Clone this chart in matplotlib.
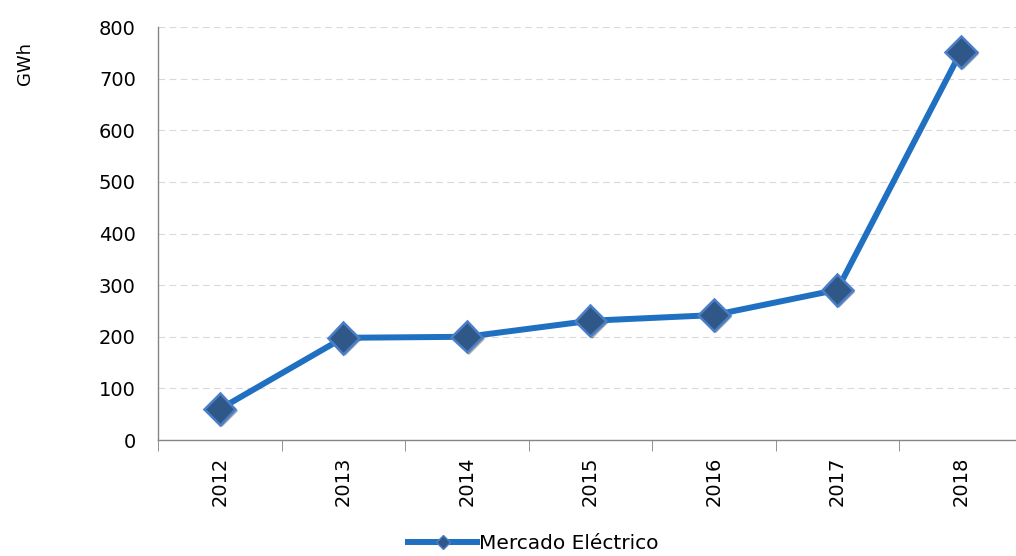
import matplotlib
matplotlib.use('Agg')
import matplotlib.pyplot as plt
import matplotlib.patheffects as pe
import numpy as np

# Annual volume traded on the electricity market
years = ['2012', '2013', '2014', '2015', '2016', '2017', '2018']
gwh = [60, 198, 200, 231, 242, 291, 752]
yticks = [0, 100, 200, 300, 400, 500, 600, 700, 800]

line_col = '#1F70C1'
marker_face = '#2F5788'
marker_edge = '#4A7FC8'

fig = plt.figure(figsize=(10.16, 5.56), dpi=100)
ax = fig.add_axes([0.1555, 0.2086, 0.851, 0.7428])

x = np.arange(len(years))
ax.plot(x, gwh, color=line_col, lw=4.3, zorder=3, solid_capstyle='round', clip_on=False)
ax.plot(x, gwh, ls='none', marker='D', ms=16, mfc=marker_face, mec=marker_edge,
        mew=1.8, zorder=4, clip_on=False,
        path_effects=[pe.SimplePatchShadow(offset=(1.5, -1.5), alpha=0.35, shadow_rgbFace='k'),
                      pe.Normal()])

ax.set_xlim(-0.5, len(years) - 0.5)
ax.set_ylim(0, 800)
ax.set_yticks(yticks)
ax.set_xticks(x)
ax.set_xticklabels(years, rotation=90)
ax.set_xticks(np.arange(-0.5, len(years)), minor=True)
ax.tick_params(axis='x', which='major', length=0, pad=12, labelsize=14)
ax.tick_params(axis='x', which='minor', length=8, color='#808080', direction='out')
ax.tick_params(axis='y', length=0, pad=16, labelsize=14)

ax.grid(axis='y', ls=(0, (6, 4)), lw=0.8, color='#D9D9D9', zorder=0)
for s in ['top', 'right']:
    ax.spines[s].set_visible(False)
for s in ['left', 'bottom']:
    ax.spines[s].set_color('#868686')
    ax.spines[s].set_linewidth(1)

fig.text(0.025, 0.885, 'GWh', rotation=90, fontsize=13, ha='center', va='center')

# Legend below the axis
handle, = ax.plot([], [], color=line_col, lw=4.3, marker='D', ms=7,
                  mfc=marker_face, mec=marker_edge)
fig.legend([handle], ['Mercado Eléctrico'], loc='center', bbox_to_anchor=(0.525, 0.022),
           frameon=False, fontsize=14.5, handlelength=3.4, handletextpad=0.1)

plt.savefig('out.png', dpi=100)
